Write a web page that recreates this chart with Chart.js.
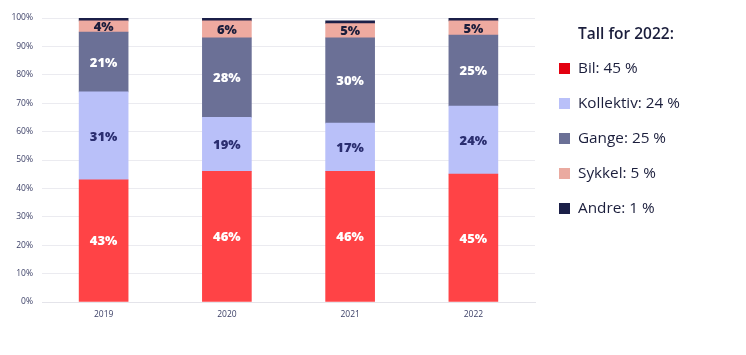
<!DOCTYPE html>
<html>
<head>
<meta charset="utf-8">
<script src="https://cdn.jsdelivr.net/npm/chart.js@4/dist/chart.umd.min.js"></script>
<style>
  html, body { margin: 0; padding: 0; background: #ffffff; }
  #wrap { position: relative; width: 746px; height: 355px; }
  #c { position: absolute; left: 0; top: 0; }
  #legend { position: absolute; left: 559px; top: 0; font-family: "Open Sans", sans-serif; color: #1b1e3c; }
  #legend .title { position: absolute; left: 19px; top: 22px; font-size: 15.5px; font-weight: 600; white-space: nowrap; }
  #legend .item { position: absolute; left: 0; white-space: nowrap; font-size: 15.3px; }
  #legend .sw { position: absolute; left: 0; width: 11px; height: 11px; }
  #legend .tx { position: absolute; left: 19px; }
</style>
</head>
<body>
<div id="wrap">
  <canvas id="c" width="746" height="355"></canvas>
  <div id="legend"></div>
</div>
<script>
const categories = ["2019", "2020", "2021", "2022"];
const seriesNames = ["Bil", "Kollektiv", "Gange", "Sykkel", "Andre"];
const bil = [43, 46, 46, 45];
const kollektiv = [31, 19, 17, 24];
const gange = [21, 28, 30, 25];
const sykkel = [4, 6, 5, 5];
const andre = [1, 1, 1, 1];
const yTickLabels = ["0%", "10%", "20%", "30%", "40%", "50%", "60%", "70%", "80%", "90%", "100%"];
const legendTitle = "Tall for 2022:";

const barColors = ["#ff4346", "#b9c0f9", "#6b7096", "#eeaaa0", "#1b1f48"];
const swatchColors = ["#e3000f", "#b9c0f9", "#6b7096", "#eaaaa0", "#1b1f48"];
const labelColors = ["#ffffff", "#2b2e70", "#ffffff", "#1b1e3c", null];
const seriesData = [bil, kollektiv, gange, sykkel, andre];

const datasets = seriesNames.map((n, i) => ({
  label: n,
  data: seriesData[i],
  backgroundColor: barColors[i],
  borderWidth: 0,
  barThickness: 49
}));

const labelPlugin = {
  id: 'barLabels',
  afterDatasetsDraw(chart) {
    const ctx = chart.ctx;
    ctx.save();
    ctx.font = '800 13px "Open Sans", sans-serif';
    ctx.textAlign = 'center';
    ctx.textBaseline = 'middle';
    chart.data.datasets.forEach((ds, i) => {
      if (!labelColors[i]) return;
      const meta = chart.getDatasetMeta(i);
      meta.data.forEach((el, j) => {
        const v = ds.data[j];
        const cy = (el.y + el.base) / 2;
        ctx.fillStyle = labelColors[i];
        ctx.fillText(v + '%', el.x, cy + 1);
      });
    });
    ctx.restore();
  }
};

new Chart(document.getElementById('c'), {
  type: 'bar',
  data: { labels: categories, datasets },
  options: {
    responsive: false,
    animation: false,
    devicePixelRatio: 1,
    layout: { padding: { top: 18, right: 211, left: 0, bottom: 0 } },
    plugins: { legend: { display: false }, tooltip: { enabled: false } },
    scales: {
      x: {
        stacked: true,
        grid: { display: false, drawTicks: false },
        border: { display: true, color: '#e4e4ea', width: 1 },
        ticks: { padding: 7, color: '#3b3f66', font: { family: '"Open Sans", sans-serif', size: 8.5 } },
        afterFit(s) { s.height = 53; }
      },
      y: {
        stacked: true,
        min: 0,
        max: 100,
        grid: { color: '#ebebf0', drawTicks: false },
        border: { display: false },
        ticks: {
          stepSize: 10,
          padding: 9,
          color: '#3b3f66',
          font: { family: '"Open Sans", sans-serif', size: 8.5 },
          callback: (v) => yTickLabels[Math.round(v / 10)]
        },
        afterFit(s) { s.width = 42; }
      }
    }
  },
  plugins: [labelPlugin]
});

// HTML legend built from the arrays
const lg = document.getElementById('legend');
const t = document.createElement('div');
t.className = 'title';
t.textContent = legendTitle;
lg.appendChild(t);
const last = categories.length - 1;
seriesNames.forEach((n, i) => {
  const top = 57 + i * 35;
  const it = document.createElement('div');
  it.className = 'item';
  it.style.top = top + 'px';
  const sw = document.createElement('div');
  sw.className = 'sw';
  sw.style.top = '6px';
  sw.style.background = swatchColors[i];
  const tx = document.createElement('div');
  tx.className = 'tx';
  tx.textContent = n + ': ' + seriesData[i][last] + ' %';
  it.appendChild(sw);
  it.appendChild(tx);
  lg.appendChild(it);
});
</script>
</body>
</html>
